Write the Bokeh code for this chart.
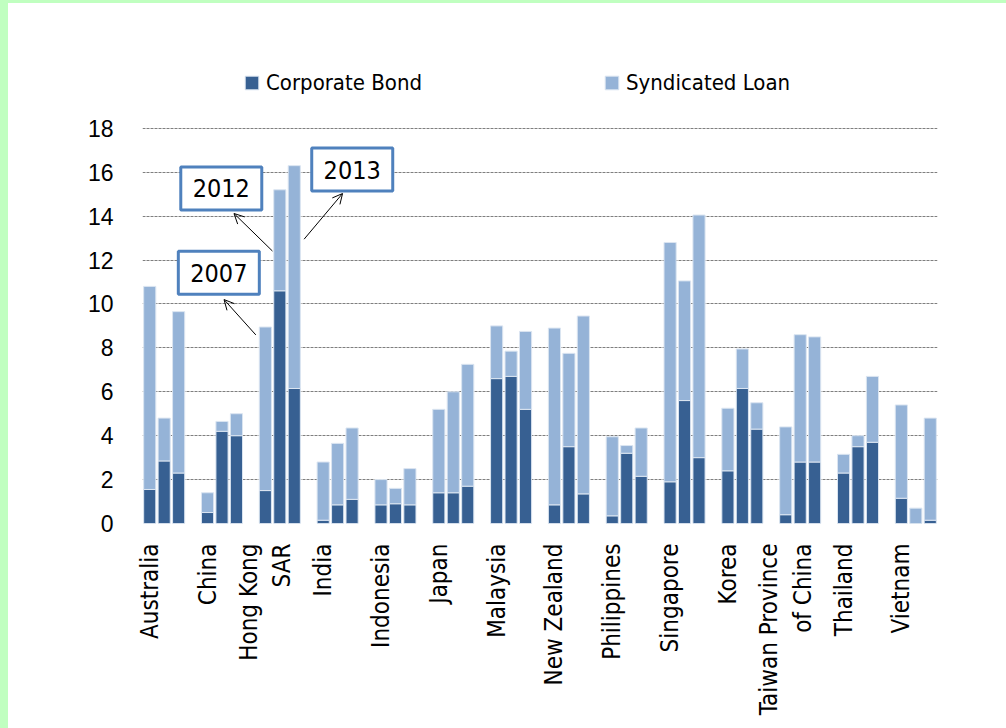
import math
from bokeh.plotting import figure
from bokeh.models import (ColumnDataSource, FixedTicker, Range1d, Legend, LegendItem,
                          Arrow, OpenHead, GlobalInlineStyleSheet)
from bokeh.core.properties import value
from bokeh.embed import file_html
from bokeh.resources import INLINE

# ---------------- data ----------------
countries = ["Australia", "China", "Hong Kong\nSAR", "India", "Indonesia", "Japan",
             "Malaysia", "New Zealand", "Philippines", "Singapore", "Korea",
             "Taiwan Province\nof China", "Thailand", "Vietnam"]
years = ["2007", "2012", "2013"]
# values per country for 2007, 2012, 2013
corporate_bond = [
    [1.55, 2.85, 2.30],   # Australia
    [0.50, 4.20, 4.00],   # China
    [1.50, 10.60, 6.15],  # Hong Kong SAR
    [0.15, 0.85, 1.10],   # India
    [0.85, 0.90, 0.85],   # Indonesia
    [1.40, 1.40, 1.70],   # Japan
    [6.60, 6.70, 5.20],   # Malaysia
    [0.85, 3.50, 1.35],   # New Zealand
    [0.35, 3.20, 2.15],   # Philippines
    [1.90, 5.60, 3.00],   # Singapore
    [2.40, 6.15, 4.30],   # Korea
    [0.40, 2.80, 2.80],   # Taiwan Province of China
    [2.30, 3.50, 3.70],   # Thailand
    [1.15, 0.00, 0.15],   # Vietnam
]
syndicated_loan = [
    [9.25, 1.95, 7.35],
    [0.90, 0.45, 1.00],
    [7.45, 4.60, 10.15],
    [2.65, 2.80, 3.25],
    [1.15, 0.70, 1.65],
    [3.80, 4.60, 5.55],
    [2.40, 1.15, 3.55],
    [8.05, 4.25, 8.10],
    [3.60, 0.35, 2.20],
    [10.90, 5.45, 11.05],
    [2.85, 1.80, 1.20],
    [4.00, 5.80, 5.70],
    [0.85, 0.50, 3.00],
    [4.25, 0.70, 4.65],
]
y_ticks = [0, 2, 4, 6, 8, 10, 12, 14, 16, 18]
series_names = ["Corporate Bond", "Syndicated Loan"]

# ---------------- layout helpers ----------------
SLOTS = 4  # 3 bars + 1 gap per country
xs, bond, loan, yr = [], [], [], []
for g, c in enumerate(countries):
    for j, y in enumerate(years):
        xs.append(g * SLOTS + j)
        bond.append(corporate_bond[g][j])
        loan.append(syndicated_loan[g][j])
        yr.append(y)
src = ColumnDataSource(dict(x=xs, bond=bond, loan=loan, year=yr))

DARK = "#376092"
LIGHT = "#95b3d7"
NARROW = "DejaVu Sans Condensed"

p = figure(frame_width=795, frame_height=483, output_backend="svg", toolbar_location=None,
           x_range=Range1d(-0.5, len(countries) * SLOTS - 1.5),
           y_range=Range1d(0, 22.0),
           min_border_left=134, min_border_right=61,
           min_border_top=37, min_border_bottom=192)
p.outline_line_color = None
p.background_fill_color = "white"
p.border_fill_color = "white"
p.styles = {"margin-left": "8px", "margin-top": "3px"}

rs = p.vbar_stack(["bond", "loan"], x="x", width=0.84, source=src,
                  color=[DARK, LIGHT], line_color="#dbe5f1", line_width=1)

# y axis
p.yaxis.ticker = FixedTicker(ticks=y_ticks)
p.yaxis.axis_line_color = None
p.yaxis.major_tick_line_color = None
p.yaxis.minor_tick_line_color = None
p.yaxis.major_tick_out = 0
p.yaxis.major_label_standoff = 29
p.yaxis.major_label_text_font = "Liberation Sans"
p.yaxis.major_label_text_font_size = "23px"
p.yaxis.major_label_text_color = "black"

# x axis
tick_pos = [g * SLOTS for g in range(len(countries))]
p.xaxis.ticker = FixedTicker(ticks=tick_pos)
p.xaxis.major_label_overrides = {t: c for t, c in zip(tick_pos, countries)}
p.xaxis.major_label_orientation = math.pi / 2
p.xaxis.axis_line_color = None
p.xaxis.major_tick_line_color = None
p.xaxis.minor_tick_line_color = None
p.xaxis.major_tick_out = 0
p.xaxis.major_label_standoff = 20
p.xaxis.major_label_text_font = NARROW
p.xaxis.major_label_text_font_size = "24px"
p.xaxis.major_label_text_color = "black"

# grid
p.xgrid.grid_line_color = None
p.ygrid.grid_line_color = "#7f7f7f"
p.ygrid.grid_line_dash = "3 1"
p.ygrid.grid_line_width = 1

# legends (two separate entries placed along the top)
for r, name, loc in zip(rs, series_names, [(101, 428), (461, 428)]):
    lg = Legend(items=[LegendItem(label=name, renderers=[r])], location=loc,
                orientation="horizontal", glyph_width=17, glyph_height=17,
                label_standoff=6, padding=0, margin=0, border_line_color=None,
                background_fill_alpha=0, label_text_font=NARROW,
                label_text_font_size="22px", label_text_color="black")
    p.add_layout(lg)

# call-out boxes and arrows
box_x = [4.78, 4.95, 14.01]
box_y = [11.42, 15.26, 16.12]
p.rect(x=box_x, y=box_y, width=81, height=43, width_units="screen", height_units="screen",
       fill_color="white", line_color="#4f81bd", line_width=3)
p.text(x=box_x, y=box_y, text=years, text_align="center", text_baseline="middle",
       text_font=value(NARROW), text_font_size="25px", text_color="black")
arrows = [((7.34, 8.59), (5.14, 10.20)),
          ((8.49, 12.41), (5.83, 14.12)),
          ((10.68, 12.95), (13.34, 15.03))]
for (xs0, ys0), (xe, ye) in arrows:
    p.add_layout(Arrow(end=OpenHead(size=10, line_width=1, line_color="black"),
                       x_start=xs0, y_start=ys0, x_end=xe, y_end=ye,
                       line_width=1, line_color="black"))

p.stylesheets = [GlobalInlineStyleSheet(css=(
    "html { background: linear-gradient(#c0ffc0,#c0ffc0) 0 0 / 100% 3px no-repeat,"
    " linear-gradient(#c0ffc0,#c0ffc0) 0 0 / 8px 100% no-repeat, #ffffff; }"))]

open("out.html", "w").write(file_html(p, INLINE))
